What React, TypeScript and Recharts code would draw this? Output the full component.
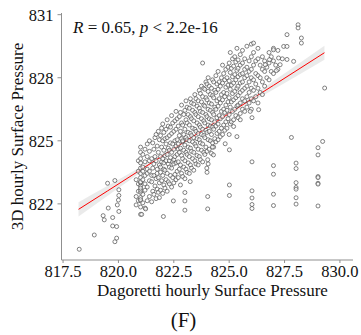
import React from "react";
import { ComposedChart, Scatter, Line, Area, XAxis, YAxis } from "recharts";

const xTicks = [817.5, 820.0, 822.5, 825.0, 827.5, 830.0];
const yTicks = [822, 825, 828, 831];

const leftTail: [number, number][] = [
  [818.23, 819.84], [818.91, 820.52], [819.31, 821.44], [819.36, 821.24],
  [819.54, 821.8], [819.51, 822.98], [819.74, 821.35], [819.74, 820.95],
  [819.84, 823.11], [819.92, 820.92], [819.84, 820.2], [819.92, 820.37],
  [819.95, 821.95], [820.02, 822.67], [820.0, 822.18], [820.02, 822.4],
  [820.02, 821.64],
];

const clusterColumns: [number, number[]][] = [
  [820.8, [822.35, 823.15, 821.95]],
  [820.9, [822.15, 822.95, 823.55, 824.05, 822.6]],
  [821.0, [821.5, 821.85, 822.15, 822.3, 822.55, 822.65, 822.85, 823.0, 823.05, 823.25, 823.45, 823.7, 823.95, 824.15, 824.45, 824.7, 822.2, 822.75]],
  [821.1, [822.05, 822.45, 823.15, 823.55, 823.75, 824.35]],
  [821.2, [821.8, 822.65, 823.35, 824.0, 824.6, 822.95]],
  [821.3, [822.15, 822.8, 823.45, 824.25, 824.85, 823.65]],
  [821.4, [822.35, 823.55, 824.05, 824.5, 825.0, 823.1]],
  [821.5, [822.1, 823.05, 824.15, 823.35]], [821.55, [822.6, 823.7, 824.9]],
  [821.6, [822.45, 823.35, 824.6, 823.9]], [821.65, [822.85, 824.25, 825.15]],
  [821.7, [822.25, 823.2, 824.05, 825.3]], [821.75, [822.7, 823.65, 824.75, 823.45]],
  [821.8, [822.55, 823.25, 824.45, 825.45]], [821.85, [823.0, 823.85, 825.05, 822.3]],
  [821.9, [822.65, 823.5, 824.25, 825.25, 823.75]], [821.95, [823.1, 824.0, 824.7, 825.6]],
  [822.0, [822.5, 823.35, 824.15, 825.0, 825.8]], [822.05, [822.9, 823.65, 824.55, 825.4, 823.95]],
  [822.1, [822.75, 823.6, 824.3, 825.1]], [822.15, [823.15, 824.05, 824.85, 825.55]],
  [822.2, [822.6, 823.45, 824.35, 825.15, 826.0]], [822.25, [823.05, 823.9, 824.65, 825.7]],
  [822.3, [822.95, 823.75, 824.55, 825.25, 824.05]], [822.35, [823.35, 824.2, 824.9, 825.65]],
  [822.4, [822.8, 823.7, 824.45, 825.35, 826.2]], [822.45, [823.25, 824.0, 824.85, 825.85]],
  [822.5, [823.0, 823.9, 824.6, 825.45, 824.1]], [822.55, [823.4, 824.25, 825.0, 825.95]],
  [822.6, [823.15, 823.95, 824.75, 825.55, 826.4]], [822.65, [823.55, 824.35, 825.05, 826.05]],
  [822.7, [823.25, 824.0, 824.85, 825.7, 824.6]], [822.75, [823.65, 824.45, 825.25, 826.15]],
  [822.8, [822.9, 823.85, 824.65, 825.45, 826.35]], [822.85, [823.45, 824.3, 825.1, 825.85, 826.7]],
  [822.9, [823.3, 824.15, 824.95, 825.75, 825.0]], [822.95, [823.75, 824.55, 825.3, 826.25]],
  [823.0, [823.2, 824.05, 824.8, 825.55, 826.45]], [823.05, [823.65, 824.45, 825.15, 826.0, 826.9]],
  [823.1, [823.5, 824.35, 825.05, 825.85, 826.6]], [823.15, [823.95, 824.7, 825.4, 826.25]],
  [823.2, [823.45, 824.25, 825.0, 825.75, 826.55]], [823.25, [823.85, 824.65, 825.35, 826.15, 827.0]],
  [823.3, [823.7, 824.5, 825.25, 826.05, 826.8]], [823.35, [824.15, 824.95, 825.6, 826.45]],
  [823.4, [823.6, 824.45, 825.15, 825.95, 826.75]], [823.45, [824.05, 824.85, 825.55, 826.35, 827.2]],
  [823.5, [823.9, 824.75, 825.45, 826.25, 827.0]], [823.55, [824.3, 825.1, 825.85, 826.65]],
  [823.6, [823.85, 824.6, 825.35, 826.15, 826.9]], [823.65, [824.25, 825.05, 825.75, 826.55, 827.4]],
  [823.7, [824.1, 824.9, 825.65, 826.4, 827.25]], [823.75, [824.55, 825.3, 826.05, 826.85, 827.6]],
  [823.8, [824.0, 824.85, 825.55, 826.35, 827.1, 828.7]], [823.85, [824.45, 825.25, 825.95, 826.7, 827.5]],
  [823.9, [824.35, 825.15, 825.85, 826.65, 827.45]], [823.95, [824.7, 825.5, 826.25, 827.05, 827.8]],
  [824.0, [823.5, 824.5, 825.4, 826.15, 826.95, 827.7]], [824.05, [823.9, 825.05, 825.75, 826.5, 827.35, 828.0]],
  [824.1, [824.6, 825.45, 826.05, 826.8, 827.6]], [824.15, [825.0, 825.7, 826.45, 827.2]],
  [824.2, [824.4, 825.3, 826.0, 826.75, 827.5]], [824.25, [824.9, 825.65, 826.35, 827.15, 827.9]],
  [824.3, [824.7, 825.55, 826.25, 827.05, 827.8]], [824.35, [825.1, 825.9, 826.6, 827.4]],
  [824.4, [824.95, 825.7, 826.5, 827.3, 828.1]], [824.45, [825.35, 826.1, 826.9, 827.7]],
  [824.5, [825.05, 825.8, 826.65, 827.45, 828.3]], [824.55, [825.45, 826.2, 827.0, 827.8]],
  [824.6, [825.2, 826.05, 826.8, 827.6]], [824.65, [825.6, 826.4, 827.2, 828.0]],
  [824.7, [825.3, 826.15, 826.95, 827.75, 828.6]], [824.75, [825.75, 826.5, 827.3, 828.2]],
  [824.8, [825.5, 826.35, 827.1, 827.9]], [824.85, [825.9, 826.7, 827.55, 828.4]],
  [824.9, [825.6, 826.45, 827.25, 828.0]], [824.95, [826.05, 826.85, 827.65, 828.5]],
  [825.0, [825.3, 826.25, 827.05, 827.85, 828.7]], [825.05, [825.8, 826.6, 827.45, 828.25, 829.2]],
  [825.1, [825.9, 826.85, 827.65, 828.45]], [825.15, [826.4, 827.25, 828.05, 828.9]],
  [825.2, [826.0, 826.95, 827.75, 828.55]], [825.25, [826.5, 827.35, 828.15, 829.0]],
  [825.3, [826.2, 827.05, 827.9, 828.75]], [825.35, [826.65, 827.5, 828.35, 829.4]],
  [825.4, [826.1, 826.7, 827.15, 827.6, 828.05, 828.45, 828.85]],
  [825.5, [826.3, 826.8, 827.3, 827.75, 828.15, 828.6, 829.1]],
  [825.6, [826.5, 827.0, 827.4, 827.8, 828.2, 828.7, 829.3]],
  [825.7, [826.4, 826.9, 827.5, 828.0, 828.4, 828.9]],
  [825.8, [826.6, 827.1, 827.6, 828.1, 828.5, 829.5]],
  [825.9, [826.8, 827.3, 827.8, 828.3, 828.8]],
  [826.0, [826.5, 827.0, 827.5, 828.0, 828.4, 829.0, 829.6]],
  [826.1, [826.9, 827.4, 827.9, 828.6, 829.2, 829.65]],
  [826.2, [827.1, 827.7, 828.2, 828.8]],
  [826.3, [826.8, 827.5, 828.1, 828.9, 829.4]],
  [826.4, [827.3, 828.0, 828.6]],
  [826.5, [827.2, 827.8, 828.4, 829.0]],
  [826.6, [827.6, 828.3, 828.8]],
  [826.7, [828.0, 828.5]],
  [826.8, [827.9, 828.7, 829.2]],
  [826.9, [828.3, 829.0]],
  [827.0, [828.2, 828.8, 829.4]],
  [827.1, [828.6]],
  [827.2, [828.4, 829.3]],
  [827.4, [828.9]],
];

const lowOutliers: [number, number][] = [
  [821.05, 821.5], [821.23, 821.76], [822.03, 821.4], [822.48, 822.14],
  [823.0, 822.54], [823.0, 822.14], [823.0, 821.7], [823.24, 823.06],
  [824.03, 822.35], [824.03, 821.76], [823.99, 823.7], [824.03, 824.1],
  [824.29, 824.33], [824.24, 824.7], [824.82, 824.86], [825.01, 824.57],
  [825.01, 822.9], [825.01, 822.4], [825.2, 825.68], [825.35, 825.2],
  [825.5, 826.0], [825.95, 826.4], [826.03, 826.1], [826.33, 826.48],
];

const rightColumns: [number, number[]][] = [
  [826.03, [824.0, 822.62, 822.28, 821.97, 821.78]],
  [827.0, [823.82, 823.41, 822.46, 821.92]],
  [827.81, [825.16]],
  [828.02, [823.94, 823.68, 823.01, 822.78, 822.7, 822.29, 821.99]],
  [829.01, [824.67, 824.33, 823.3, 823.25, 822.98, 822.94, 821.9]],
  [829.22, [824.97]],
];

const upperRight: [number, number][] = [
  [826.63, 828.62], [826.82, 828.86], [827.0, 829.33], [827.13, 828.34],
  [827.23, 828.94], [827.3, 828.62], [827.46, 829.49], [827.61, 829.49],
  [827.61, 830.05], [827.61, 828.87], [827.91, 828.78], [828.11, 830.52],
  [828.11, 830.37], [828.26, 829.89], [828.26, 829.65], [829.31, 827.51],
];

const fitX = [818.2, 819.5, 821.0, 822.5, 824.0, 825.5, 827.0, 829.3];
const fitY = [821.74, 822.61, 823.62, 824.63, 825.63, 826.64, 827.64, 829.19];
const bandLow = [821.4, 822.37, 823.49, 824.56, 825.56, 826.52, 827.44, 828.86];
const bandHigh = [822.08, 822.85, 823.75, 824.7, 825.7, 826.76, 827.84, 829.52];

const points = [
  ...leftTail,
  ...clusterColumns.flatMap(([x, ys]) => ys.map((y) => [x, y] as [number, number])),
  ...lowOutliers,
  ...rightColumns.flatMap(([x, ys]) => ys.map((y) => [x, y] as [number, number])),
  ...upperRight,
].map(([x, y]) => ({ x, y }));

const fitData = fitX.map((x, i) => ({ x, fit: fitY[i], band: [bandLow[i], bandHigh[i]] }));

const SERIF = "'Liberation Serif', 'Times New Roman', serif";

const Dot = (props: any) => {
  const { cx, cy } = props;
  if (cx == null || cy == null) return null;
  return <circle cx={cx} cy={cy} r={2.0} fill="#ffffff" fillOpacity={0.6} stroke="#4d4d4d" strokeWidth={0.7} />;
};

const css = `
.recharts-cartesian-axis-tick-value, .recharts-cartesian-axis-tick-value tspan {
  font-family: 'Liberation Serif', 'Times New Roman', serif !important;
}
`;

export default function App() {
  return (
    <div style={{ position: "absolute", left: 0, top: 0, width: 361, height: 335, background: "#fff", fontFamily: SERIF }}>
      <style>{css}</style>
      <ComposedChart
        width={361}
        height={335}
        data={fitData}
        margin={{ top: 13, right: 8, bottom: 45, left: 0 }}
      >
        <XAxis
          type="number"
          dataKey="x"
          domain={[817.43, 830.59]}
          ticks={xTicks}
          interval={0}
          allowDataOverflow
          tickFormatter={(v: number) => v.toFixed(1)}
          height={30}
          tickSize={3}
          tickMargin={2}
          axisLine={{ stroke: "#8f8f8f" }}
          tickLine={{ stroke: "#8f8f8f" }}
          tick={{ fill: "#111", fontSize: 16.5, fontFamily: SERIF }}
        />
        <YAxis
          type="number"
          domain={[819.33, 831.08]}
          ticks={yTicks}
          interval={0}
          allowDataOverflow
          width={61.5}
          tickSize={4}
          tickMargin={4}
          axisLine={{ stroke: "#8f8f8f" }}
          tickLine={{ stroke: "#8f8f8f" }}
          tick={{ fill: "#111", fontSize: 16.5, fontFamily: SERIF }}
        />
        <Scatter data={points} dataKey="y" shape={Dot} isAnimationActive={false} />
        <Area
          dataKey="band"
          type="monotone"
          stroke="none"
          fill="#b8b8b8"
          fillOpacity={0.3}
          isAnimationActive={false}
          activeDot={false}
        />
        <Line
          dataKey="fit"
          type="linear"
          stroke="#ff0000"
          strokeWidth={1}
          dot={false}
          activeDot={false}
          isAnimationActive={false}
        />
      </ComposedChart>
      <svg
        width={361}
        height={335}
        style={{ position: "absolute", left: 0, top: 0, pointerEvents: "none" }}
      >
        <text x={73} y={33} fontFamily={SERIF} fontSize={17} fill="#111">
          <tspan fontStyle="italic">R</tspan>
          <tspan> = 0.65, </tspan>
          <tspan fontStyle="italic">p</tspan>
          <tspan> &lt; 2.2e-16</tspan>
        </text>
        <text x={212.5} y={296} textAnchor="middle" fontFamily={SERIF} fontSize={17} fill="#111">
          Dagoretti hourly Surface Pressure
        </text>
        <text
          x={23}
          y={136.5}
          textAnchor="middle"
          transform="rotate(-90 23 136.5)"
          fontFamily={SERIF}
          fontSize={17}
          fill="#111"
        >
          3D hourly Surface Pressure
        </text>
        <text x={183.5} y={327} textAnchor="middle" fontFamily={SERIF} fontSize={21} fill="#111">
          (F)
        </text>
      </svg>
    </div>
  );
}
